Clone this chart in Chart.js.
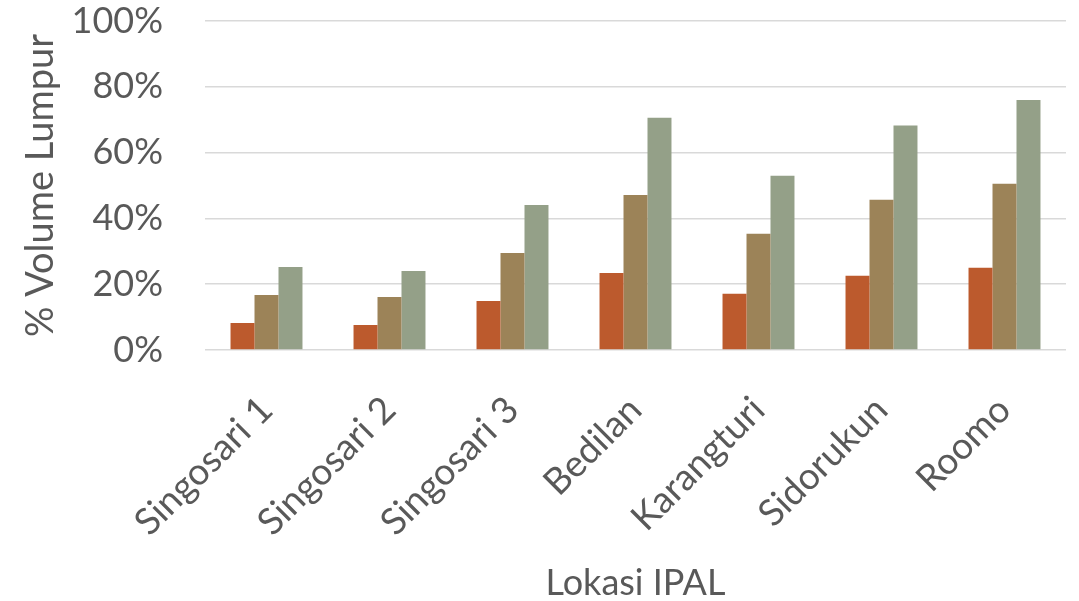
<!DOCTYPE html>
<html>
<head>
<meta charset="utf-8">
<script src="https://cdn.jsdelivr.net/npm/chart.js@4/dist/chart.umd.min.js"></script>
<style>
  html, body { margin: 0; padding: 0; background: #ffffff; }
  #wrap { width: 1079px; height: 601px; position: relative; }
</style>
</head>
<body>
<div id="wrap"><canvas id="c" width="1079" height="601"></canvas></div>
<script>
// Lokasi IPAL (treatment plant sites)
const categories = ['Singosari 1', 'Singosari 2', 'Singosari 3', 'Bedilan', 'Karangturi', 'Sidorukun', 'Roomo'];

// Sludge volume (%) for three successive measurements
const series1 = [8.2, 7.6, 14.9, 23.4, 17.1, 22.6, 25.0];
const series2 = [16.7, 16.1, 29.5, 47.1, 35.3, 45.7, 50.5];
const series3 = [25.2, 24.0, 44.1, 70.6, 53.0, 68.2, 76.0];

// Y axis ticks (percent)
const yTicks = [0, 20, 40, 60, 80, 100];

const FONT = 'Lato, "Open Sans", sans-serif';
const TEXT = '#595959';

new Chart(document.getElementById('c'), {
  type: 'bar',
  data: {
    labels: categories,
    datasets: [
      { label: 'Series 1', data: series1, backgroundColor: '#BC5A2D' },
      { label: 'Series 2', data: series2, backgroundColor: '#9C8358' },
      { label: 'Series 3', data: series3, backgroundColor: '#94A088' }
    ]
  },
  options: {
    responsive: false,
    animation: false,
    devicePixelRatio: 1,
    layout: { padding: { top: 21, right: 13, bottom: 0, left: 0 } },
    plugins: { legend: { display: false }, tooltip: { enabled: false } },
    datasets: { bar: { barPercentage: 1.0, categoryPercentage: 0.585 } },
    scales: {
      x: {
        grid: { display: false },
        border: { display: false },
        ticks: {
          color: TEXT,
          font: { family: FONT, size: 37 },
          minRotation: 45,
          maxRotation: 45,
          padding: 30
        },
        title: {
          display: true,
          text: 'Lokasi IPAL',
          color: TEXT,
          font: { family: FONT, size: 36, lineHeight: 1.0 },
          padding: { top: 10, bottom: 0 }
        },
        afterFit(scale) {
          scale.height = 251;
          scale.paddingLeft = 0;
          scale.paddingRight = 0;
        }
      },
      y: {
        min: 0,
        max: 100,
        afterBuildTicks(scale) { scale.ticks = yTicks.map(v => ({ value: v })); },
        grid: { color: '#D9D9D9', lineWidth: 1.5, drawTicks: false },
        border: { display: false },
        ticks: {
          color: TEXT,
          font: { family: FONT, size: 36 },
          padding: 42,
          callback: v => v + '%'
        },
        title: {
          display: true,
          text: '% Volume Lumpur',
          color: TEXT,
          font: { family: FONT, size: 38 },
          padding: { top: 18, bottom: 2 }
        },
        afterFit(scale) {
          scale.width = 205;
          scale.paddingTop = 0;
          scale.paddingBottom = 0;
        }
      }
    }
  }
});
</script>
</body>
</html>
